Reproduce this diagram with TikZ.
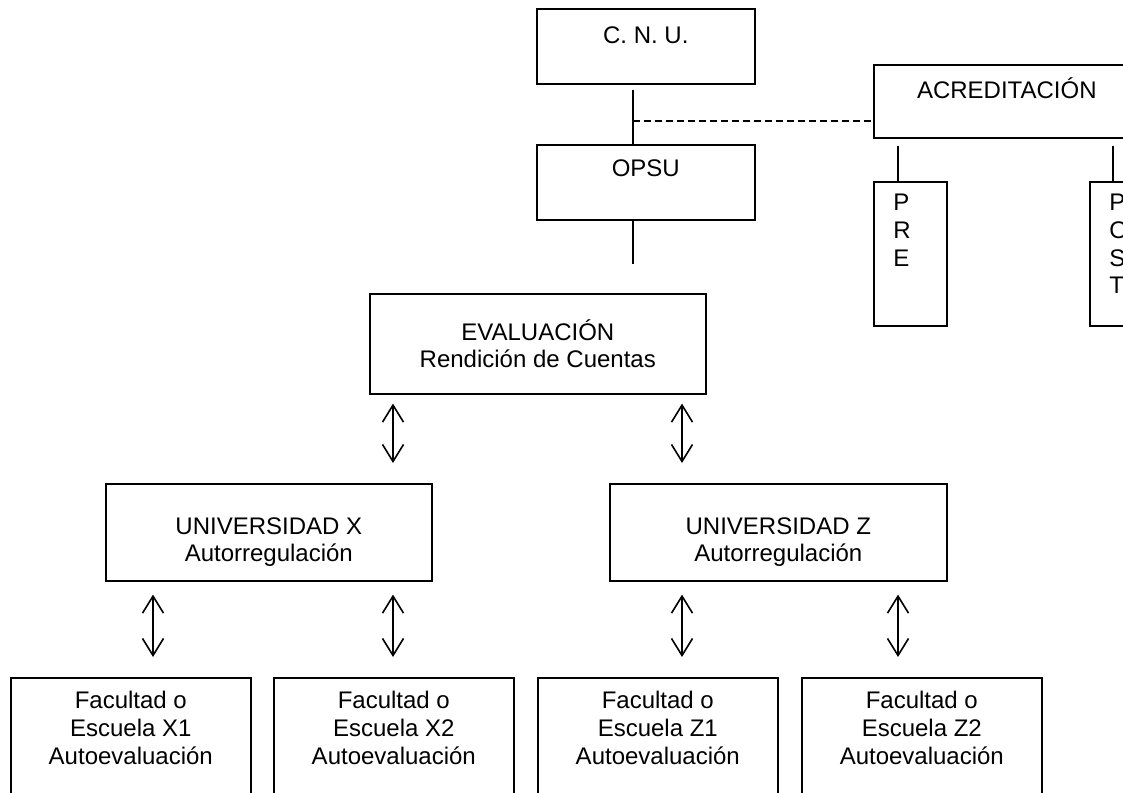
\documentclass[tikz,border=0pt]{standalone}
\usepackage{fontspec}
\setmainfont{Liberation Sans}
\usepackage{tikz}
\usetikzlibrary{calc}
\usetikzlibrary{arrows.meta}

\begin{document}
\begin{tikzpicture}[x=0.5pt, y=-0.5pt,
    box/.style={rectangle, draw=black, line width=0.8pt, inner sep=0pt, anchor=north west},
    txt/.style={anchor=north, inner sep=0pt, align=center, font=\fontsize{12}{13.8}\selectfont, execute at begin node=\strut},
    link/.style={draw=black, line width=0.8pt},
    both/.style={link, {Straight Barb[length=8.5pt, width=10.5pt]}-{Straight Barb[length=8.5pt, width=10.5pt]}}]
    \useasboundingbox (0,0) rectangle (1123,792);

    \node[box, minimum width=109pt, minimum height=37.5pt] (cnu) at (536,8) {};
    \node[txt] (cnu-t) at ($(cnu.north)+(0,16)$) {C. N. U.};
    \node[box, minimum width=109pt, minimum height=37.5pt] (opsu) at (536,144) {};
    \node[txt] (opsu-t) at ($(opsu.north)+(0,13)$) {OPSU};
    \node[box, minimum width=133pt, minimum height=36.5pt] (acr) at (873,64) {};
    \node[txt] (acr-t) at ($(acr.north)+(0,13)$) {ACREDITACIÓN};
    \node[box, minimum width=36.5pt, minimum height=72pt] (pre) at (873,181) {};
    \node[txt, anchor=north west, align=left] (pre-t) at ($(pre.north west)+(20,13)$) {P\\R\\E};
    \node[box, minimum width=36.5pt, minimum height=72pt] (post) at (1089,181) {};
    \node[txt, anchor=north west, align=left] (post-t) at ($(post.north west)+(20,13)$) {P\\O\\S\\T};

    \coordinate (vx) at (633,0);
    \coordinate (dy) at (0,121);
    \coordinate (opsu-end) at (633,264);
    \coordinate (prex) at (898,0);
    \coordinate (postx) at (1113,0);
    \draw[link, shorten <=2.5pt] (cnu.south -| vx) -- (opsu.north -| vx);
    \draw[link, dash pattern=on 3.5pt off 2pt] (vx |- dy) -- (acr.west |- dy);
    \draw[link] (opsu.south -| vx) -- (opsu-end);
    \draw[link, shorten <=3.5pt] (acr.south -| prex) -- (pre.north -| prex);
    \draw[link, shorten <=3.5pt] (acr.south -| postx) -- (post.north -| postx);

    \node[box, minimum width=168pt, minimum height=50pt] (eval) at (369,293) {};
    \node[txt] (eval-t) at ($(eval.north)+(0,26)$) {EVALUACIÓN\\Rendición de Cuentas};

    \node[box, minimum width=163pt, minimum height=48.5pt] (unx) at (105,483) {};
    \node[txt] (unx-t) at ($(unx.north)+(0,34)$) {UNIVERSIDAD X\\Autorregulación};
    \node[box, minimum width=168.5pt, minimum height=48.5pt] (unz) at (609,483) {};
    \node[txt] (unz-t) at ($(unz.north)+(0,34)$) {UNIVERSIDAD Z\\Autorregulación};

    \foreach \ax/\uni in {393/unx, 682/unz}
    {
        \coordinate (A) at (\ax,0);
        \draw[both, shorten <=4.5pt, shorten >=10pt] (eval.south -| A) -- (\uni.north -| A);
    }

    \foreach \fx/\ax/\uni/\sfx in {10/153/unx/X1, 273/393/unx/X2, 537/682/unz/Z1, 801/898/unz/Z2}
    {
        \node[box, minimum width=120pt, minimum height=65pt] (fac\sfx) at (\fx,677) {};
        \node[txt] (fac\sfx-t) at ($(fac\sfx.north)+(0,14)$) {Facultad o\\Escuela \sfx\\Autoevaluación};
        \coordinate (A) at (\ax,0);
        \draw[both, shorten <=6.5pt, shorten >=10pt] (\uni.south -| A) -- (fac\sfx.north -| A);
    }
\end{tikzpicture}
\end{document}
